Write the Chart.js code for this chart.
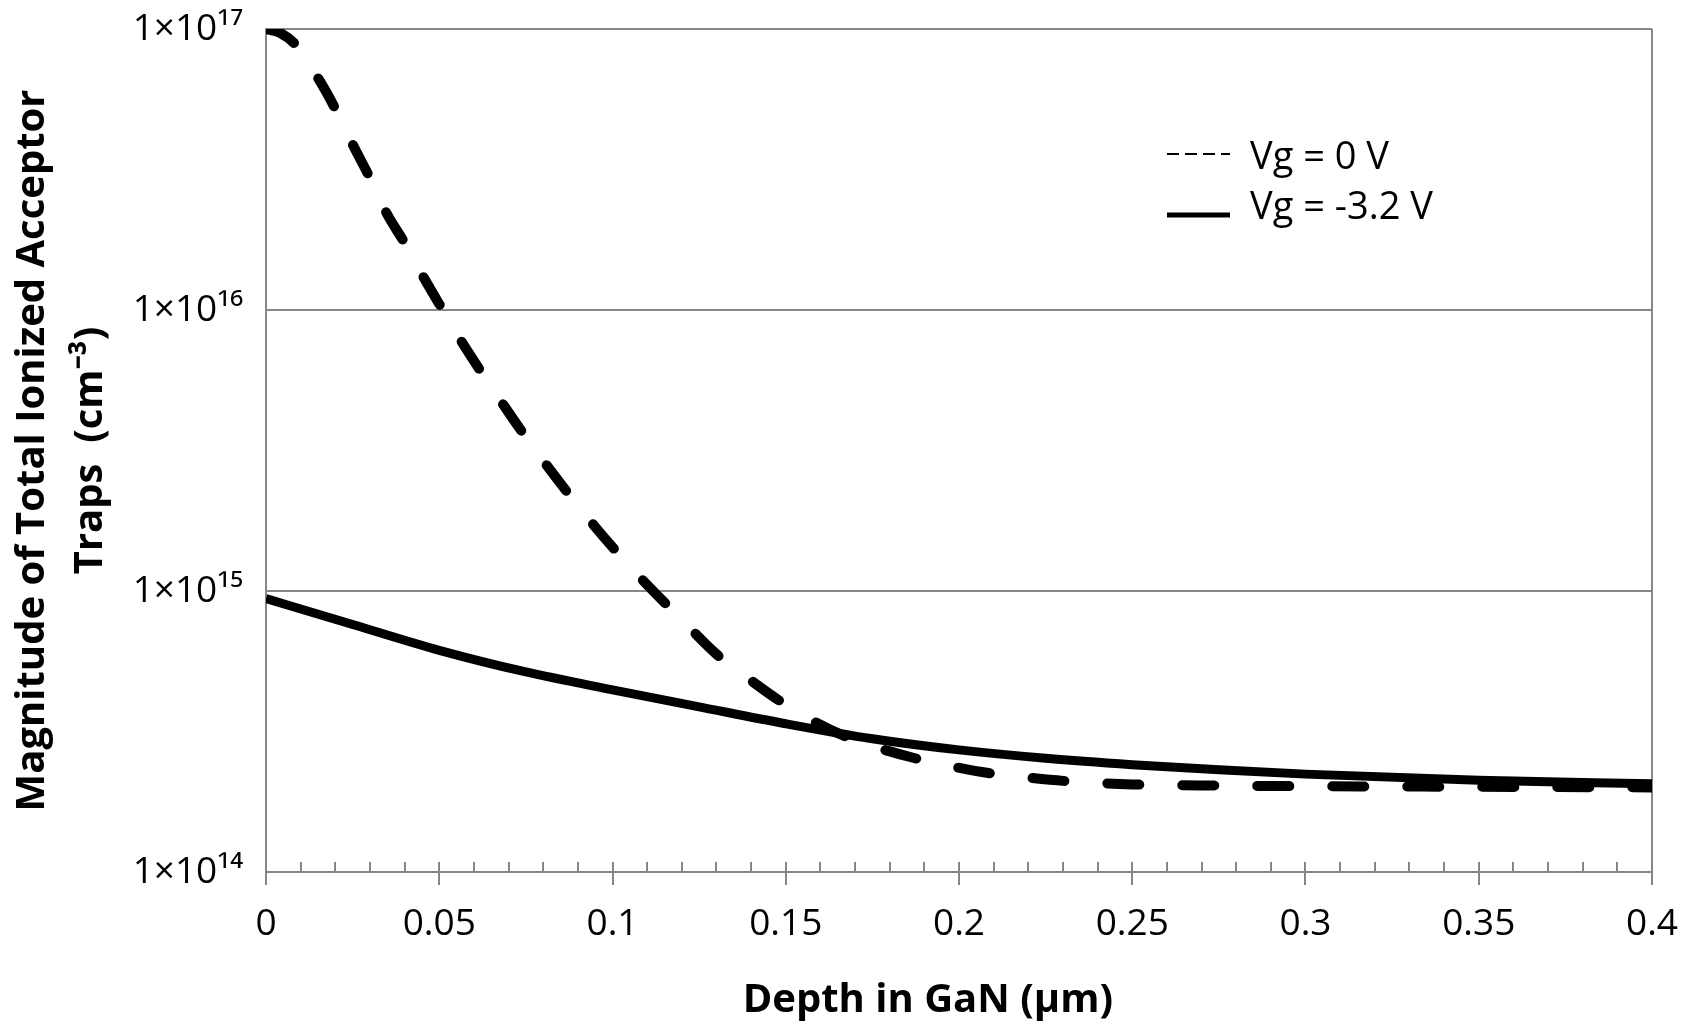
<!DOCTYPE html>
<html>
<head>
<meta charset="utf-8">
<script src="https://cdn.jsdelivr.net/npm/chart.js@4.4.0/dist/chart.umd.min.js"></script>
<style>
  html, body { margin: 0; padding: 0; background: #fff; }
  #wrap { width: 1694px; height: 1025px; }
</style>
</head>
<body>
<div id="wrap"><canvas id="trapsChart"></canvas></div>
<script>
// Vg = 0 V (dashed)
const depthVg0 = [0, 0.004, 0.0085, 0.0153, 0.02, 0.0254, 0.0297, 0.0349, 0.0398, 0.0456,
  0.0504, 0.0565, 0.0618, 0.0685, 0.0738, 0.081, 0.0868, 0.0945, 0.1003, 0.1085,
  0.12, 0.1304, 0.1397, 0.1478, 0.158, 0.1671, 0.1777, 0.1873, 0.1984, 0.2085,
  0.2196, 0.2301, 0.25, 0.275, 0.3, 0.35, 0.4];
const trapsVg0 = [1.0e17, 9.7e16, 8.8e16, 6.6e16, 5.2e16, 3.8e16, 3.0e16, 2.2e16, 1.75e16, 1.3e16,
  1.03e16, 7.7e15, 6.1e15, 4.6e15, 3.7e15, 2.8e15, 2.26e15, 1.72e15, 1.42e15, 1.10e15,
  7.9e14, 5.9e14, 4.83e14, 4.1e14, 3.44e14, 3.04e14, 2.74e14, 2.54e14, 2.37e14, 2.25e14,
  2.17e14, 2.11e14, 2.05e14, 2.03e14, 2.02e14, 2.01e14, 2.0e14];

// Vg = -3.2 V (solid)
const depthVgNeg = [0, 0.025, 0.05, 0.075, 0.1, 0.125, 0.15, 0.175, 0.2, 0.225, 0.25, 0.275, 0.3, 0.35, 0.4];
const trapsVgNeg = [9.4e14, 7.6e14, 6.15e14, 5.15e14, 4.45e14, 3.87e14, 3.37e14, 2.98e14, 2.72e14,
  2.54e14, 2.41e14, 2.31e14, 2.23e14, 2.12e14, 2.06e14];

const seriesLabels = ["Vg = 0 V", "Vg = -3.2 V"];

const depthTicks = [0, 0.05, 0.1, 0.15, 0.2, 0.25, 0.3, 0.35, 0.4];
const depthTickLabels = ["0", "0.05", "0.1", "0.15", "0.2", "0.25", "0.3", "0.35", "0.4"];
const trapTicks = [1e14, 1e15, 1e16, 1e17];
const trapTickLabels = ["1×10¹⁴", "1×10¹⁵", "1×10¹⁶", "1×10¹⁷"];

const gridGray = "#878787";
const fontFamily = "'Open Sans', sans-serif";

function toPoints(xs, ys) {
  return xs.map((x, i) => ({ x: x, y: ys[i] }));
}

// minor ticks on the depth axis + right frame line
const axisExtras = {
  id: "axisExtras",
  beforeDatasetsDraw(chart) {
    const { ctx, chartArea, scales } = chart;
    const x = scales.x;
    ctx.save();
    ctx.strokeStyle = gridGray;
    ctx.lineWidth = 2;
    ctx.beginPath();
    for (let i = 0; i <= 40; i++) {
      const px = Math.round(x.getPixelForValue(i / 100));
      ctx.moveTo(px, chartArea.bottom);
      ctx.lineTo(px, chartArea.bottom - 10);
    }
    ctx.moveTo(chartArea.right, chartArea.top);
    ctx.lineTo(chartArea.right, chartArea.bottom + 13);
    ctx.stroke();
    ctx.restore();
  },
};

// legend drawn inside the plot, top right
const insideLegend = {
  id: "insideLegend",
  afterDatasetsDraw(chart, args, opts) {
    const { ctx } = chart;
    chart.data.datasets.forEach((ds, i) => {
      const y = opts.rows[i];
      ctx.save();
      ctx.strokeStyle = ds.borderColor;
      ctx.lineWidth = opts.sampleWidths[i];
      ctx.setLineDash(opts.sampleDashes[i]);
      ctx.beginPath();
      ctx.moveTo(opts.left, y + opts.sampleShift[i]);
      ctx.lineTo(opts.left + opts.sampleLength, y + opts.sampleShift[i]);
      ctx.stroke();
      ctx.setLineDash([]);
      ctx.fillStyle = "#000";
      ctx.font = "38px " + fontFamily;
      ctx.textBaseline = "middle";
      ctx.fillText(ds.label, opts.left + opts.sampleLength + 20, y);
      ctx.restore();
    });
  },
};

Chart.defaults.font.family = fontFamily;
Chart.defaults.color = "#000";

new Chart(document.getElementById("trapsChart"), {
  type: "line",
  data: {
    datasets: [
      {
        label: seriesLabels[0],
        data: toPoints(depthVg0, trapsVg0),
        borderColor: "#000",
        borderWidth: 10,
        borderDash: [32, 43],
        borderCapStyle: "round",
        pointRadius: 0,
        cubicInterpolationMode: "monotone",
        clip: 0,
      },
      {
        label: seriesLabels[1],
        data: toPoints(depthVgNeg, trapsVgNeg),
        borderColor: "#000",
        borderWidth: 9,
        pointRadius: 0,
        cubicInterpolationMode: "monotone",
        clip: 0,
      },
    ],
  },
  options: {
    responsive: true,
    maintainAspectRatio: false,
    animation: false,
    devicePixelRatio: 1,
    layout: { padding: { top: 29, right: 42, bottom: 0, left: 0 } },
    plugins: {
      legend: { display: false },
      tooltip: { enabled: false },
      insideLegend: {
        left: 1167,
        sampleLength: 63,
        rows: [158, 208],
        sampleShift: [-4, 7],
        sampleWidths: [2, 5],
        sampleDashes: [[12, 6], []],
      },
    },
    scales: {
      x: {
        type: "linear",
        min: 0,
        max: 0.4,
        afterBuildTicks: (scale) => {
          scale.ticks = depthTicks.map((v) => ({ value: v }));
        },
        afterFit: (scale) => {
          scale.height = 153;
          scale.paddingLeft = 0;
          scale.paddingRight = 0;
        },
        ticks: {
          callback: (value, index) => depthTickLabels[index],
          font: { size: 37 },
          color: "#000",
          padding: 17,
          maxRotation: 0,
          autoSkip: false,
        },
        grid: {
          drawOnChartArea: false,
          drawTicks: true,
          tickLength: 13,
          color: gridGray,
          lineWidth: 2,
        },
        border: { color: gridGray, width: 2 },
        title: {
          display: true,
          text: "Depth in GaN (μm)\u00a0\u00a0\u00a0\u00a0\u00a0\u00a0",
          font: { size: 40, weight: "bold" },
          color: "#000",
          padding: { top: 0, bottom: 0 },
        },
      },
      y: {
        type: "logarithmic",
        min: 1e14,
        max: 1e17,
        afterBuildTicks: (scale) => {
          scale.ticks = trapTicks.map((v) => ({ value: v }));
        },
        afterFit: (scale) => {
          scale.width = 266;
          scale.paddingTop = 0;
          scale.paddingBottom = 0;
        },
        ticks: {
          callback: (value, index) => trapTickLabels[index],
          font: { size: 37 },
          color: "#000",
          padding: 23,
          autoSkip: false,
        },
        grid: {
          color: gridGray,
          lineWidth: 2,
          drawTicks: false,
        },
        border: { color: gridGray, width: 2 },
        title: {
          display: true,
          text: ["Magnitude of Total Ionized Acceptor", "Traps  (cm⁻³)"],
          font: { size: 40, weight: "bold", lineHeight: 1.45 },
          color: "#000",
          padding: { top: 4, bottom: 0 },
        },
      },
    },
  },
  plugins: [axisExtras, insideLegend],
});
</script>
</body>
</html>
